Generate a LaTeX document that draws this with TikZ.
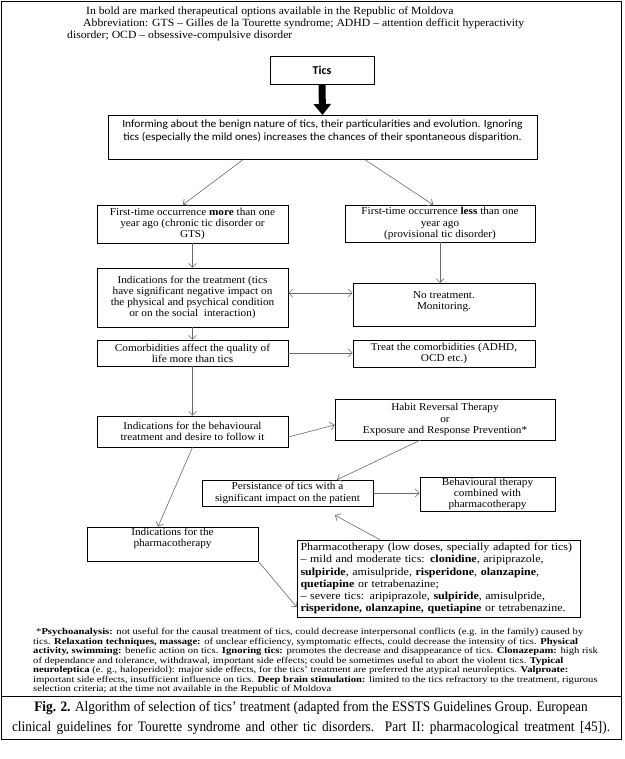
\documentclass[tikz,border=0pt]{standalone}
\usepackage{fontspec}
\setmainfont{Liberation Serif}
\newfontfamily\calfont[FakeStretch=1.05]{Carlito}
\newfontfamily\ticsfont{Carlito}
\newfontfamily\boxfont[FakeStretch=1.07]{Liberation Serif}
\newfontfamily\footfont[FakeStretch=1.18]{Liberation Serif}
\newfontfamily\hdrfont[FakeStretch=1.065]{Liberation Serif}
\newfontfamily\phfont[FakeStretch=1.11]{Liberation Serif}
\newfontfamily\capfont[FakeStretch=0.92]{Liberation Serif}
\usetikzlibrary{arrows.meta,calc}
\definecolor{conncol}{RGB}{105,105,105}
\begin{document}
\begin{tikzpicture}[x=1pt,y=-1pt,
  box/.style={draw=black, line width=0.6pt, fill=white, align=center, inner sep=1pt,
    font=\boxfont\fontsize{10.5}{11.2}\selectfont},
  conn/.style={draw=conncol, line width=0.6pt, -{Straight Barb[length=4pt,width=8pt]}},
  dconn/.style={draw=conncol, line width=0.6pt, {Straight Barb[length=4pt,width=8pt]}-{Straight Barb[length=4pt,width=8pt]}},
  bigarrow/.style={draw=black, line width=7pt, -{Triangle[width=17pt,length=11pt]}},
  plain/.style={inner sep=0pt, align=left}]
\fill[white] (0,0) rectangle (624,759);
\useasboundingbox (0,0) rectangle (624,759);
\draw[line width=0.8pt] (1,1) rectangle (621,739);
\draw[line width=0.8pt] (1,696) -- (621,696);

\node[plain, anchor=north west, font=\hdrfont\fontsize{11}{11.8}\selectfont] (hdr) at (67,7)
  {\hspace*{19pt}In bold are marked therapeutical options available in the Republic of Moldova\\
   \hspace*{16pt}Abbreviation: GTS – Gilles de la Tourette syndrome; ADHD – attention defficit hyperactivity\\
   disorder; OCD – obsessive-compulsive disorder};

\node[box, minimum width=104pt, minimum height=28pt, font=\ticsfont\bfseries\fontsize{12}{13}\selectfont] (tics) at (322,70) {Tics};

\node[box, minimum width=429pt, text depth=14pt, anchor=north, font=\calfont\fontsize{11}{12.5}\selectfont, inner ysep=5pt] (inform) at (322.5,115)
  {Informing about the benign nature of tics, their particularities and evolution. Ignoring\\
   tics (especially the mild ones) increases the chances of their spontaneous disparition.};

\node[box, minimum width=191pt, minimum height=38pt] (more) at (192.5,224)
  {First-time occurrence \textbf{more} than one\\year ago (chronic tic disorder or\\GTS)};
\node[box, minimum width=190pt, minimum height=37pt] (less) at (440,223.5)
  {First-time occurrence \textbf{less} than one\\year ago\\(provisional tic disorder)};
\node[box, minimum width=191pt, minimum height=59pt] (indic) at (192.5,297.5)
  {Indications for the treatment (tics\\have significant negative impact on\\the physical and psychical condition\\or on the social\ \ interaction)};
\node[box, minimum width=182pt, text height=25pt, text depth=16pt, anchor=north] (notreat) at (444,283)
  {No treatment.\\Monitoring.};
\node[box, minimum width=191pt, minimum height=26pt] (comorb) at (192.5,353)
  {Comorbidities affect the quality of\\life more than tics};
\node[box, minimum width=182pt, minimum height=27pt] (treat) at (444,353.5)
  {Treat the comorbidities (ADHD,\\OCD etc.)};
\node[box, minimum width=191pt, minimum height=31pt] (behav) at (192.5,431.5)
  {Indications for the behavioural\\treatment and desire to follow it};
\node[box, minimum width=220pt, minimum height=41pt] (habit) at (445,419.5)
  {Habit Reversal Therapy\\or\\Exposure and Response Prevention*};
\node[box, minimum width=171pt, minimum height=26pt] (persist) at (287.5,493)
  {Persistance of tics with a\\significant impact on the patient};
\node[box, minimum width=135pt, minimum height=34pt, font=\boxfont\fontsize{10.5}{10.8}\selectfont] (behavcomb) at (487.5,494)
  {Behavioural therapy\\combined with\\pharmacotherapy};
\node[box, minimum width=171pt, minimum height=34pt] (pharmind) at (172.5,544)
  {Indications for the\\pharmacotherapy\\[2pt]};
\node[box, minimum width=283pt, minimum height=77pt, text width=276pt, align=left, font=\phfont\fontsize{10.8}{12.2}\selectfont] (pharmaco) at (438.5,578.5)
  {Pharmacotherapy (low doses, specially adapted for tics)\\
   – mild and moderate tics: \textbf{clonidine}, aripiprazole,\\
   \textbf{sulpiride}, amisulpride, \textbf{risperidone}, \textbf{olanzapine},\\
   \textbf{quetiapine} or tetrabenazine;\\
   – severe tics: aripiprazole, \textbf{sulpiride}, amisulpride,\\
   \textbf{risperidone, olanzapine, quetiapine} or tetrabenazine.};

\node[plain, anchor=north west, font=\footfont\fontsize{9}{9.5}\selectfont] (foot) at (33,628)
  {\hspace*{3pt}*\textbf{Psychoanalysis:} not useful for the causal treatment of tics, could decrease interpersonal conflicts (e.g. in the family) caused by\\
   tics. \textbf{Relaxation techniques, massage:} of unclear efficiency, symptomatic effects, could decrease the intensity of tics. \textbf{Physical}\\
   \textbf{activity, swimming:} benefic action on tics. \textbf{Ignoring tics:} promotes the decrease and disappearance of tics. \textbf{Clonazepam:} high risk\\
   of dependance and tolerance, withdrawal, important side effects; could be sometimes useful to abort the violent tics. \textbf{Typical}\\
   \textbf{neuroleptica} (e. g., haloperidol): major side effects, for the tics’ treatment are preferred the atypical neuroleptics. \textbf{Valproate:}\\
   important side effects, insufficient influence on tics. \textbf{Deep brain stimulation:} limited to the tics refractory to the treatment, rigurous\\
   selection criteria; at the time not available in the Republic of Moldova};

\node[plain, align=center, font=\capfont\fontsize{14.5}{20}\selectfont] (cap) at (311,718)
  {\textbf{Fig. 2.} Algorithm of selection of tics’ treatment (adapted from the ESSTS Guidelines Group. European\\
   \makebox[598pt][s]{clinical guidelines for Tourette syndrome and other tic disorders. Part II: pharmacological treatment [45]).}};

\draw[bigarrow] (tics.south) -- (inform.north);
\draw[conn] ([xshift=-79.5pt]inform.south) -- ([xshift=-9.5pt]more.north);
\draw[conn] ([xshift=42.5pt]inform.south) -- ([xshift=-7pt]less.north);
\draw[conn] (more.south) -- (indic.north);
\draw[conn] (less.south) -- (less.south |- notreat.north);
\draw[dconn] ([yshift=4.5pt]indic.east) -- ([yshift=4.5pt]indic.east -| notreat.west);
\draw[conn] (indic.south) -- (comorb.north);
\draw[conn] (comorb.east) -- (comorb.east -| treat.west);
\draw[conn] (comorb.south) -- (behav.north);
\draw[conn] ([yshift=-5.5pt]behav.east) -- ([yshift=-5.5pt]habit.west);
\draw[conn] ([xshift=-25pt]habit.south) -- ([xshift=49.5pt]persist.north);
\draw[conn] (behav.south) -- ([xshift=-14.5pt]pharmind.north);
\draw[conn] (persist.east) -- (persist.east -| behavcomb.west);
\draw[conn] (pharmind.south east) -- ([yshift=-28.5pt]pharmaco.west);
\draw[conn] ([xshift=-58.5pt]pharmaco.north) -- ([xshift=47.5pt,yshift=-9pt]persist.south);
\end{tikzpicture}
\end{document}
